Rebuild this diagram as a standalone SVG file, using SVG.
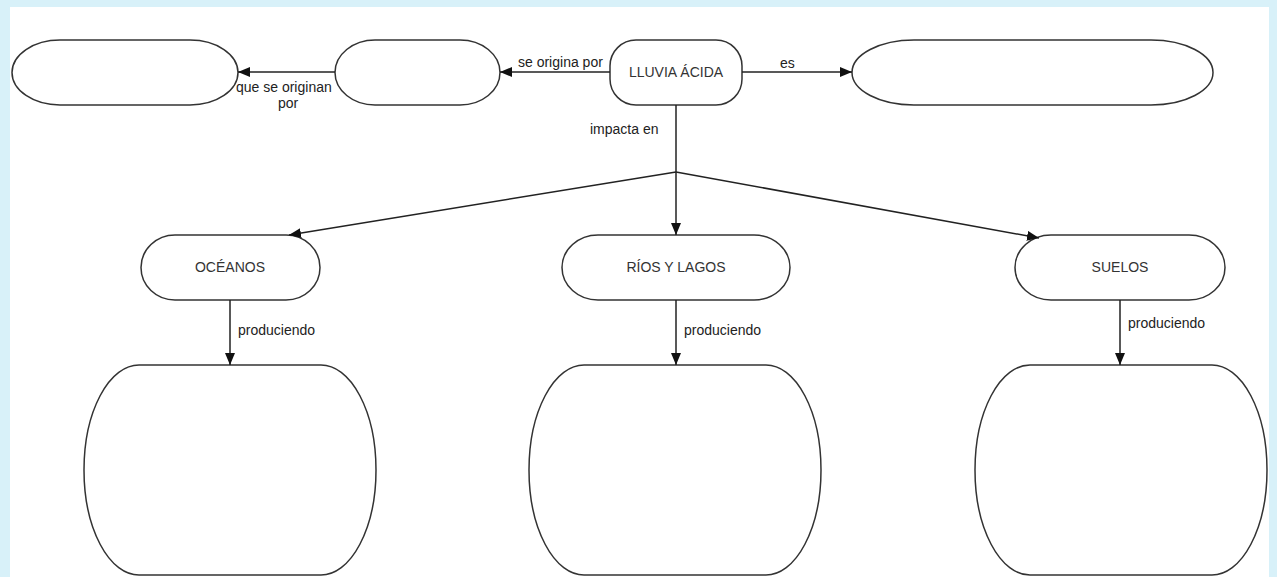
<svg xmlns="http://www.w3.org/2000/svg" width="1277" height="577" viewBox="0 0 1277 577">
  <style>
    .node { fill: #ffffff; stroke: #333333; stroke-width: 1.5; }
    .edge { fill: none; stroke: #222222; stroke-width: 1.5; }
    .ntext { font-family: "Liberation Sans", Arial, sans-serif; font-size: 14px; fill: #333333; text-anchor: middle; }
    .ltext { font-family: "Liberation Sans", Arial, sans-serif; font-size: 14px; fill: #222222; }
  </style>
  <defs>
    <marker id="arrow" viewBox="0 0 12 10" refX="12" refY="5" markerWidth="12" markerHeight="10" markerUnits="userSpaceOnUse" orient="auto">
      <path d="M0,0 L12,5 L0,10 Z" fill="#111111"/>
    </marker>
  </defs>

  <!-- page frame -->
  <rect x="0" y="0" width="1277" height="577" fill="#d8f1f9"/>
  <rect x="10" y="7" width="1259" height="570" fill="#ffffff"/>

  <!-- top row -->
  <g id="node-origen2">
    <rect class="node" x="12" y="40" width="226" height="65" rx="48" ry="32.5"/>
  </g>
  <g id="node-origen1">
    <rect class="node" x="335" y="40" width="165" height="65" rx="40" ry="32.5"/>
  </g>
  <g id="node-lluvia">
    <rect class="node" x="610" y="40" width="132" height="65" rx="26" ry="26"/>
    <text class="ntext" x="676" y="77">LLUVIA ÁCIDA</text>
  </g>
  <g id="node-definicion">
    <rect class="node" x="852" y="40" width="361" height="65" rx="62" ry="32.5"/>
  </g>

  <!-- middle row -->
  <g id="node-oceanos">
    <rect class="node" x="141" y="235" width="179" height="65" rx="34" ry="32.5"/>
    <text class="ntext" x="230" y="272">OCÉANOS</text>
  </g>
  <g id="node-rios">
    <rect class="node" x="562" y="235" width="228" height="65" rx="36" ry="32.5"/>
    <text class="ntext" x="676" y="272">RÍOS Y LAGOS</text>
  </g>
  <g id="node-suelos">
    <rect class="node" x="1015" y="235" width="210" height="65" rx="36" ry="32.5"/>
    <text class="ntext" x="1120" y="272">SUELOS</text>
  </g>

  <!-- bottom row -->
  <g id="node-efecto-oceanos">
    <rect class="node" x="84" y="365" width="292" height="210" rx="55" ry="105"/>
  </g>
  <g id="node-efecto-rios">
    <rect class="node" x="529" y="365" width="292" height="210" rx="55" ry="105"/>
  </g>
  <g id="node-efecto-suelos">
    <rect class="node" x="975" y="365" width="292" height="210" rx="55" ry="105"/>
  </g>

  <!-- connectors -->
  <g id="connectors">
    <line class="edge" x1="610" y1="72" x2="500" y2="72" marker-end="url(#arrow)"/>
    <line class="edge" x1="335" y1="72" x2="238" y2="72" marker-end="url(#arrow)"/>
    <line class="edge" x1="742" y1="72" x2="852" y2="72" marker-end="url(#arrow)"/>
    <line class="edge" x1="676" y1="105" x2="676" y2="172"/>
    <line class="edge" x1="676" y1="172" x2="289" y2="235" marker-end="url(#arrow)"/>
    <line class="edge" x1="676" y1="172" x2="676" y2="235" marker-end="url(#arrow)"/>
    <line class="edge" x1="676" y1="172" x2="1039" y2="238" marker-end="url(#arrow)"/>
    <line class="edge" x1="230" y1="300" x2="230" y2="365" marker-end="url(#arrow)"/>
    <line class="edge" x1="676" y1="300" x2="676" y2="365" marker-end="url(#arrow)"/>
    <line class="edge" x1="1120" y1="300" x2="1120" y2="365" marker-end="url(#arrow)"/>

    <text class="ltext" x="518" y="67">se origina por</text>
    <text class="ltext" x="236" y="92">que se originan</text>
    <text class="ltext" x="288" y="108" text-anchor="middle">por</text>
    <text class="ltext" x="780" y="68">es</text>
    <text class="ltext" x="590" y="134">impacta en</text>
    <text class="ltext" x="238" y="335">produciendo</text>
    <text class="ltext" x="684" y="335">produciendo</text>
    <text class="ltext" x="1128" y="328">produciendo</text>
  </g>
</svg>
